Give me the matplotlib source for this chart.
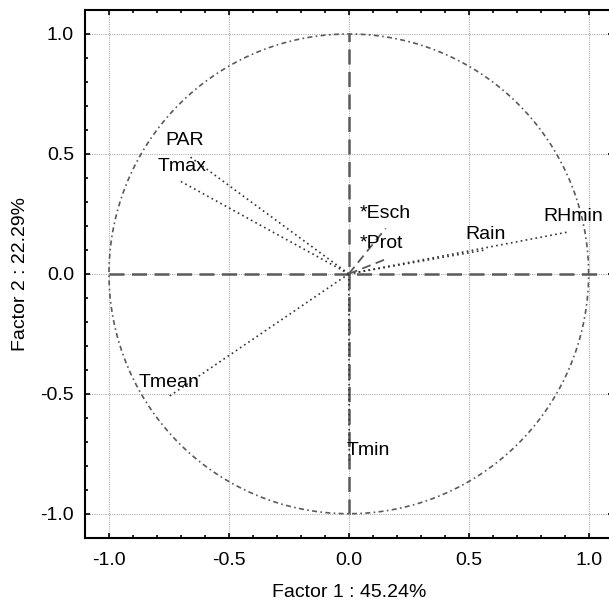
import numpy as np
import matplotlib
matplotlib.use('Agg')
from matplotlib import pyplot as plt
from matplotlib.ticker import MultipleLocator

# factor loadings (Factor 1, Factor 2)
variables = ['PAR', 'Tmax', 'Tmean', 'Tmin', 'Rain', 'RHmin', '*Esch', '*Prot']
f1 = [-0.665, -0.70, -0.754, 0.002, 0.57, 0.912, 0.154, 0.154]
f2 = [0.49, 0.385, -0.514, -0.79, 0.10, 0.174, 0.19, 0.061]
supplementary = [False, False, False, False, False, False, True, True]

ticks = [-1.0, -0.5, 0.0, 0.5, 1.0]
xlabel = 'Factor 1 : 45.24%'
ylabel = 'Factor 2 : 22.29%'

# label offsets (pixels) from the vector end
offsets = {
	'PAR': (-5, 16), 'Tmax': (1, 15), 'Tmean': (1, 15), 'Tmin': (19, 13),
	'Rain': (0, 15), 'RHmin': (6, 16), '*Esch': (-1, 15), '*Prot': (-4, 16),
}

plt.rcParams['font.family'] = ['Liberation Sans', 'DejaVu Sans']
plt.rcParams['axes.unicode_minus'] = False

fig = plt.figure(figsize=(6.09, 6.05), dpi=100)
ax = fig.add_axes([85/609, 1-537.7/605, (612.6-85)/609, (537.7-10)/605])

gc = '#5a5a5a'
th = np.linspace(0, 2*np.pi, 400)
ax.plot(np.cos(th), np.sin(th), color=gc, lw=1.2, linestyle=(0, (3, 2, 1, 2)))
ax.plot([-1, 1.05], [0, 0], color=gc, lw=1.8, linestyle=(0, (6, 3)))
ax.plot([0, 0], [-1, 1], color=gc, lw=1.8, linestyle=(0, (6, 3)))

for name, x, y, sup in zip(variables, f1, f2, supplementary):
	if sup:
		ax.plot([0, x], [0, y], color=gc, lw=1.3, linestyle=(0, (5, 3)))
	else:
		ax.plot([0, x], [0, y], color='#333333', lw=1.2, linestyle=(0, (1, 2)))
	ax.annotate(name, (x, y), xytext=offsets[name], textcoords='offset pixels',
		ha='center', va='center', fontsize=14)

ax.set_xlim(-1.1, 1.1)
ax.set_ylim(-1.1, 1.1)
ax.set_xticks(ticks)
ax.set_yticks(ticks)
ax.xaxis.set_minor_locator(MultipleLocator(0.1))
ax.yaxis.set_minor_locator(MultipleLocator(0.1))
ax.tick_params(which='both', direction='in', top=True, right=True, labelsize=14, width=1.2)
ax.tick_params(which='major', length=3.5, pad=8)
ax.tick_params(axis='x', which='major', pad=10)
ax.tick_params(which='minor', length=2)
for s in ax.spines.values():
	s.set_linewidth(1.5)
ax.grid(True, color='#b0b0b0', linestyle=(0, (1, 1)), lw=0.8)
ax.set_axisbelow(True)
ax.set_xlabel(xlabel, fontsize=14, labelpad=11)
ax.set_ylabel(ylabel, fontsize=14, labelpad=8)

fig.savefig('out.png', dpi=100)
